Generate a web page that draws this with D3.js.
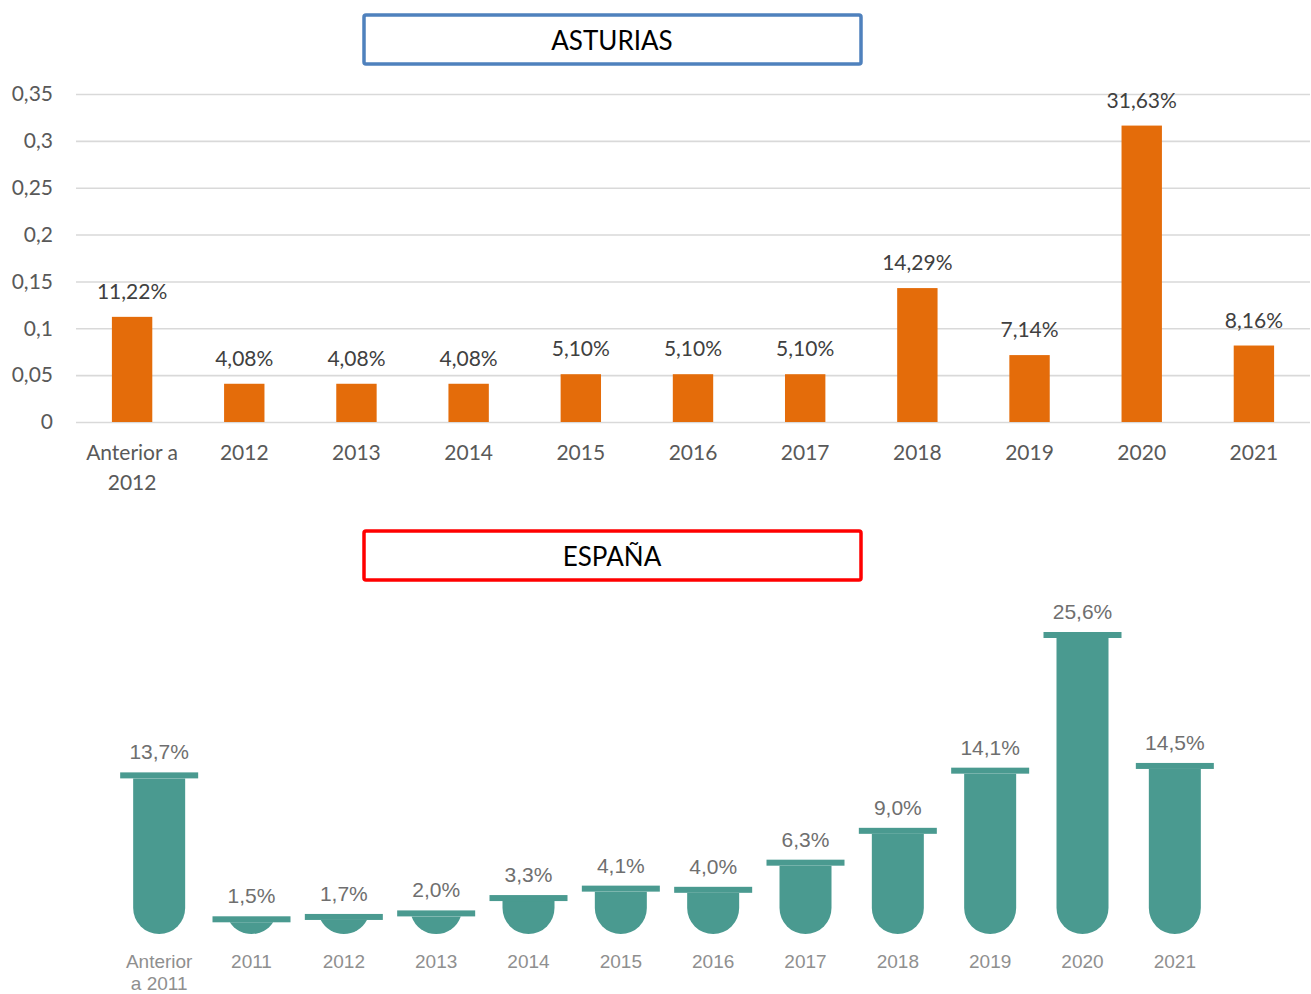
<!DOCTYPE html>
<html>
<head>
<meta charset="utf-8">
<script src="https://cdn.jsdelivr.net/npm/d3@7"></script>
<style>
  body { margin: 0; background: #fff; }
  svg { display: block; }
</style>
</head>
<body>
<svg id="chart" width="1311" height="994"></svg>
<script>
// Asturias (top chart)
const asturiasCats = ["Anterior a 2012", "2012", "2013", "2014", "2015", "2016", "2017", "2018", "2019", "2020", "2021"];
const asturiasValues = [0.1122, 0.0408, 0.0408, 0.0408, 0.0510, 0.0510, 0.0510, 0.1429, 0.0714, 0.3163, 0.0816];
const asturiasTicks = [0, 0.05, 0.1, 0.15, 0.2, 0.25, 0.3, 0.35];

// España (bottom chart, test tubes)
const espanaCats = ["Anterior a 2011", "2011", "2012", "2013", "2014", "2015", "2016", "2017", "2018", "2019", "2020", "2021"];
const espanaValues = [13.7, 1.5, 1.7, 2.0, 3.3, 4.1, 4.0, 6.3, 9.0, 14.1, 25.6, 14.5];

const svg = d3.select("#chart");
const es = d3.formatLocale({ decimal: ",", thousands: ".", grouping: [3], currency: ["", "€"] });

// split "Anterior a 2012" style labels on two lines
function splitLabel(s) {
    return s.startsWith("Anterior") ? [s.slice(0, s.lastIndexOf(" ")), s.slice(s.lastIndexOf(" ") + 1)] : [s];
}

function titleBox(y, label, stroke) {
    const g = svg.append("g");
    g.append("rect")
        .attr("x", 364).attr("y", y)
        .attr("width", 497).attr("height", 49)
        .attr("rx", 2)
        .style("fill", "#fff")
        .style("stroke", stroke)
        .style("stroke-width", 3.5);
    g.append("text")
        .attr("x", 612).attr("y", y + 35)
        .attr("text-anchor", "middle")
        .style("font-family", "Lato, 'Open Sans', sans-serif")
        .style("font-size", "26px")
        .style("fill", "#000")
        .text(label);
}

/* ---------- top chart ---------- */
const xTop = d3.scaleBand(asturiasCats, [76, 1310]).paddingInner(0.64).paddingOuter(0.32);
const yTop = d3.scaleLinear([0, 0.35], [422, 94]);

const yAxis = svg.append("g")
    .attr("transform", "translate(76,0)")
    .call(d3.axisLeft(yTop)
        .tickValues(asturiasTicks)
        .tickSize(-(1310 - 76))
        .tickPadding(23)
        .tickFormat(es.format("~g")));
yAxis.select(".domain").remove();
yAxis.selectAll(".tick line")
    .style("stroke", "#d9d9d9")
    .style("stroke-width", 1.6);
yAxis.selectAll(".tick text")
    .style("font-family", "Lato, sans-serif")
    .style("font-size", "21px")
    .style("fill", "#595959");

svg.append("g")
    .selectAll("rect")
    .data(asturiasValues)
    .join("rect")
    .attr("x", (d, i) => xTop(asturiasCats[i]))
    .attr("y", d => yTop(d))
    .attr("width", xTop.bandwidth())
    .attr("height", d => yTop(0) - yTop(d))
    .style("fill", "#e46c0a");

svg.append("g")
    .selectAll("text")
    .data(asturiasValues)
    .join("text")
    .attr("x", (d, i) => xTop(asturiasCats[i]) + xTop.bandwidth() / 2)
    .attr("y", d => yTop(d) - 18)
    .attr("text-anchor", "middle")
    .style("font-family", "Lato, sans-serif")
    .style("font-size", "21px")
    .style("fill", "#404040")
    .text(d => es.format(".2%")(d));

svg.append("g")
    .selectAll("text")
    .data(asturiasCats)
    .join("text")
    .attr("text-anchor", "middle")
    .style("font-family", "Lato, sans-serif")
    .style("font-size", "21px")
    .style("fill", "#595959")
    .each(function (d) {
        d3.select(this).selectAll("tspan")
            .data(splitLabel(d))
            .join("tspan")
            .attr("x", xTop(d) + xTop.bandwidth() / 2)
            .attr("y", (t, j) => 460 + j * 30)
            .text(t => t);
    });

titleBox(15, "ASTURIAS", "#4f81bd");

/* ---------- bottom chart ---------- */
const base = 934;
const xBot = d3.scaleBand(espanaCats, [113, 1221]);
const yBot = d3.scaleLinear([0, 25.6], [base, 632]);
const capW = 78, capH = 6, r = 26;

function tubePath(cx, top) {
    const c = base - r;
    if (top < c) {
        return `M${cx - r},${top}L${cx - r},${c}A${r},${r} 0 0 0 ${cx + r},${c}L${cx + r},${top}Z`;
    }
    const w = Math.sqrt(Math.max(r * r - (top - c) * (top - c), 0));
    return `M${cx - w},${top}A${r},${r} 0 0 0 ${cx + w},${top}Z`;
}

const tubes = svg.append("g")
    .selectAll("g")
    .data(espanaValues)
    .join("g");

tubes.append("path")
    .attr("d", (d, i) => tubePath(xBot(espanaCats[i]) + xBot.bandwidth() / 2, yBot(d) + capH))
    .style("fill", "#4a9a90");

tubes.append("rect")
    .attr("x", (d, i) => xBot(espanaCats[i]) + xBot.bandwidth() / 2 - capW / 2)
    .attr("y", d => yBot(d))
    .attr("width", capW)
    .attr("height", capH)
    .style("fill", "#4a9a90");

tubes.append("text")
    .attr("x", (d, i) => xBot(espanaCats[i]) + xBot.bandwidth() / 2)
    .attr("y", d => yBot(d) - 13)
    .attr("text-anchor", "middle")
    .style("font-family", "'Liberation Sans', Arial, sans-serif")
    .style("font-size", "21px")
    .style("fill", "#6f6f6f")
    .text(d => es.format(".1f")(d) + "%");

svg.append("g")
    .selectAll("text")
    .data(espanaCats)
    .join("text")
    .attr("text-anchor", "middle")
    .style("font-family", "'Liberation Sans', Arial, sans-serif")
    .style("font-size", "19px")
    .style("fill", "#8f8f8f")
    .each(function (d) {
        const parts = d.startsWith("Anterior") ? ["Anterior", "a 2011"] : [d];
        d3.select(this).selectAll("tspan")
            .data(parts)
            .join("tspan")
            .attr("x", xBot(d) + xBot.bandwidth() / 2)
            .attr("y", (t, j) => 968 + j * 22)
            .text(t => t);
    });

titleBox(531, "ESPAÑA", "#ff0000");
</script>
</body>
</html>
